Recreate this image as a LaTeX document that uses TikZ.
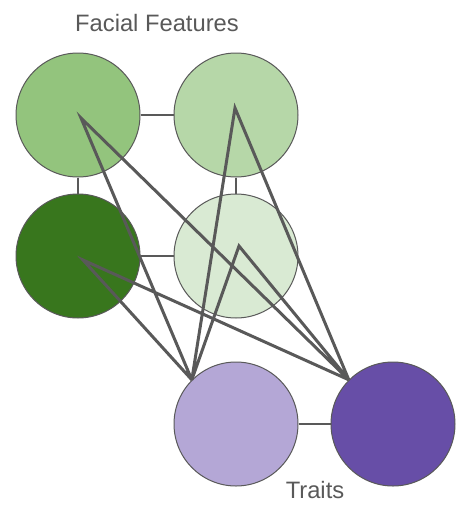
\documentclass[tikz,border=0pt]{standalone}
\usepackage{fontspec}
\setmainfont{Liberation Sans}
\usepackage{tikz}
\usetikzlibrary{calc,positioning}
\definecolor{linegray}{HTML}{595959}
\definecolor{featA}{HTML}{93C47D}
\definecolor{featB}{HTML}{B6D7A8}
\definecolor{featC}{HTML}{38761D}
\definecolor{featD}{HTML}{D9EAD3}
\definecolor{traitA}{HTML}{B4A7D6}
\definecolor{traitB}{HTML}{674EA7}
\tikzset{
        unit/.style = {draw=linegray, circle, line width=0.75pt,
            minimum size=93pt, inner sep=0pt},
        link/.style = {draw=linegray, line width=1pt},
        weight/.style = {draw=linegray, line width=2.25pt, line join=miter},
        caption/.style = {text=linegray, font=\fontsize{17.8}{20}\selectfont},
    }

\begin{document}
\begin{tikzpicture}[x=0.75pt, y=-0.75pt, node distance=118.5pt]
		\useasboundingbox (0,0) rectangle (470,507);
		% facial features
		\node[unit, fill=featA]    (Eyes)   at (78,115)             {};
		\node[unit, fill=featB]    (Nose)[right of=Eyes]            {};
		\node[unit, fill=featC]    (Mouth)[below of=Eyes, node distance=105.75pt]    {};
		\node[unit, fill=featD]    (Chin)[right of=Mouth]           {};
		% traits
		\node[unit, fill=traitA]   (Calm)[below of=Chin, node distance=126pt]    {};
		\node[unit, fill=traitB]   (Bold)[right of=Calm, node distance=117.75pt] {};
		\node[caption]  (FeatTitle)  at (157,23)    {Facial Features};
		\node[caption]  (TraitTitle) at (315,490)   {Traits};
		\path[link]
		(Eyes) -- (Nose)
		(Eyes) -- (Mouth)
		(Nose) -- (Chin)
		(Mouth) -- (Chin)
		(Calm) -- (Bold);
		\coordinate (pEyes)  at ($(Eyes.center)+(3,3)$);
		\coordinate (pNose)  at ($(Nose.center)+(-1,-7)$);
		\coordinate (pMouth) at ($(Mouth.center)+(5,4)$);
		\coordinate (pChin)  at ($(Chin.center)+(3,-10)$);
		\path[weight]
		(Calm.135) -- (pEyes) -- (Bold.135)
		(Calm.135) -- (pNose) -- (Bold.135)
		(Calm.135) -- (pMouth) -- (Bold.135)
		(Calm.135) -- (pChin) -- (Bold.135);
		\end{tikzpicture}
\end{document}
